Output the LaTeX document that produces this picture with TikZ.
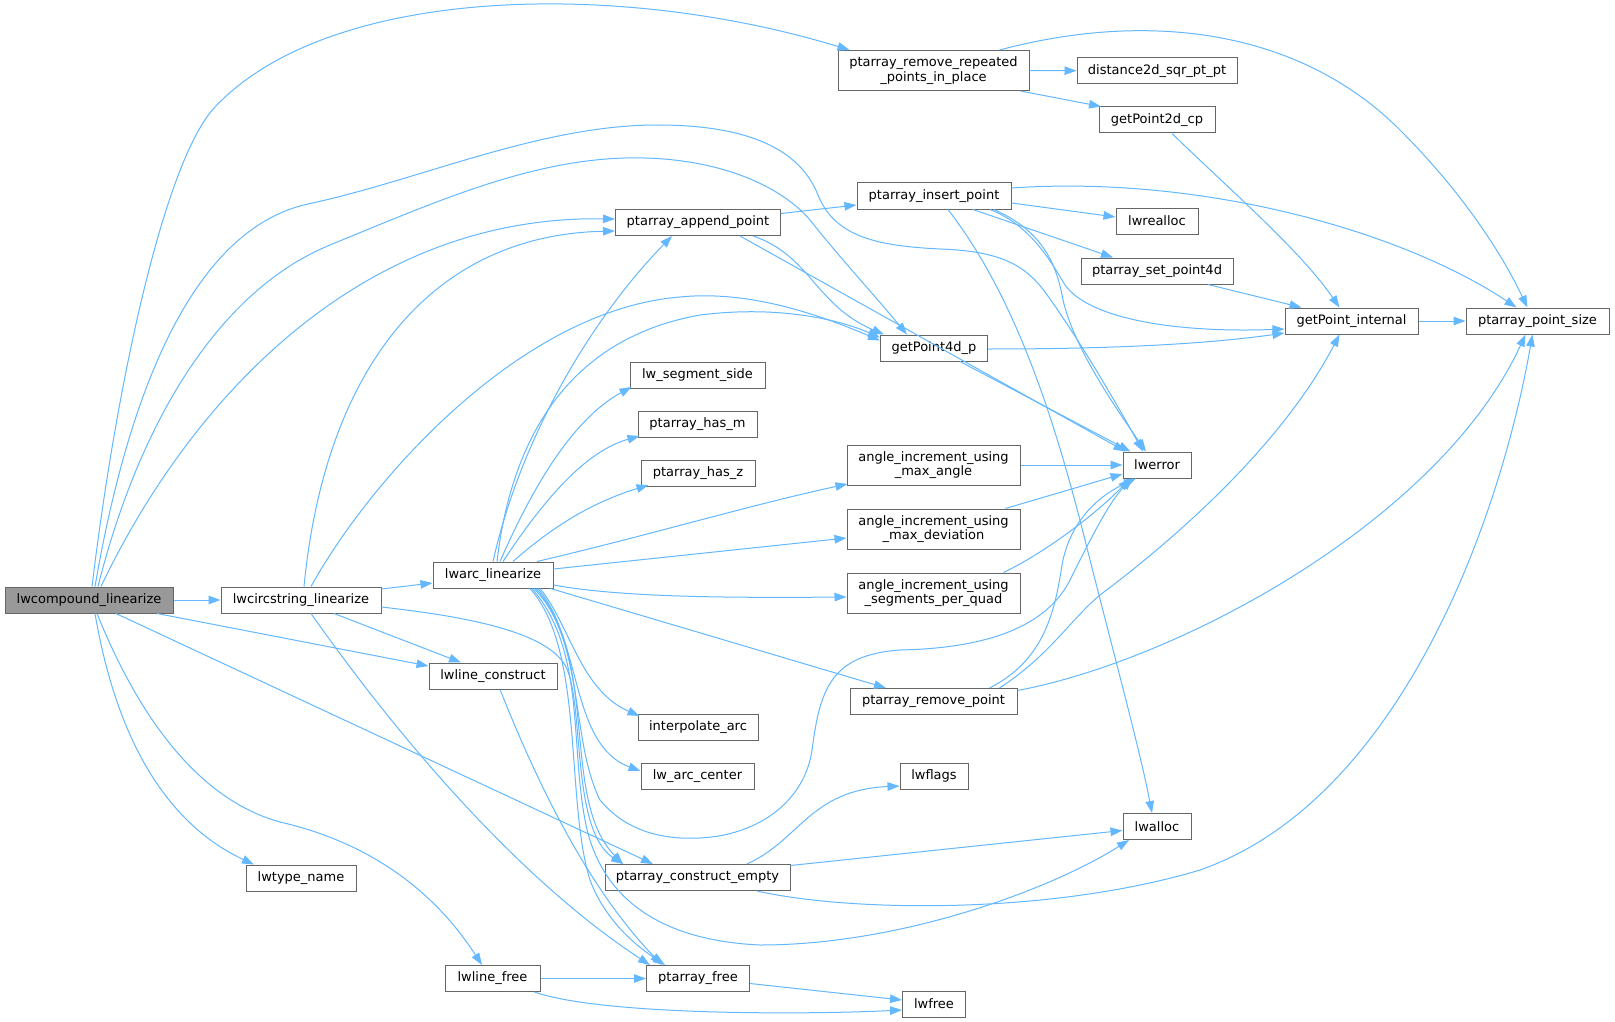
\documentclass[tikz,border=0pt]{standalone}
\usepackage{fontspec}
\setmainfont{DejaVu Sans}
\usetikzlibrary{arrows.meta,calc}
\definecolor{edgec}{HTML}{63B8FF}
\definecolor{boxc}{HTML}{666666}
\definecolor{curc}{HTML}{999999}
\begin{document}
\begin{tikzpicture}[x=1pt,y=-1pt,
  box/.style={draw=boxc,line width=1pt,fill=white,inner sep=0pt,minimum height=26pt,
    font=\fontsize{13}{14.5}\selectfont,align=center,text=black},
  tall/.style={box,minimum height=40pt},
  edge/.style={draw=edgec,line width=1pt,-{Triangle[length=12pt,width=8.5pt]}}]
\fill[white] (0,0) rectangle (1615,1022);
\useasboundingbox (0,0) rectangle (1615,1022);
% nodes
\node[box,fill=curc,minimum width=168pt] (A) at (89,600) {lwcompound\_linearize};
\node[box,minimum width=160pt] (B) at (301,600) {lwcircstring\_linearize};
\node[box,minimum width=120pt] (C) at (493,575) {lwarc\_linearize};
\node[box,minimum width=128pt] (D) at (493,676) {lwline\_construct};
\node[box,minimum width=110pt] (E) at (301,878) {lwtype\_name};
\node[box,minimum width=95pt] (F) at (492.5,978.5) {lwline\_free};
\node[tall,minimum width=191pt] (G) at (933.5,70.5) {ptarray\_remove\_repeated\\\_points\_in\_place};
\node[box,minimum width=154pt] (H) at (934,196) {ptarray\_insert\_point};
\node[box,minimum width=165pt] (I) at (698,222.5) {ptarray\_append\_point};
\node[box,minimum width=107pt] (J) at (934,348) {getPoint4d\_p};
\node[box,minimum width=135pt] (K) at (697.5,375) {lw\_segment\_side};
\node[box,minimum width=119pt] (L) at (697.5,424) {ptarray\_has\_m};
\node[box,minimum width=114pt] (M) at (698,473) {ptarray\_has\_z};
\node[tall,minimum width=173pt] (N) at (933.5,465) {angle\_increment\_using\\\_max\_angle};
\node[tall,minimum width=173pt] (O) at (933.5,529) {angle\_increment\_using\\\_max\_deviation};
\node[tall,minimum width=173pt] (P) at (933.5,593) {angle\_increment\_using\\\_segments\_per\_quad};
\node[box,minimum width=68pt] (Q) at (1157,465) {lwerror};
\node[box,minimum width=167pt] (R) at (933.5,701.5) {ptarray\_remove\_point};
\node[box,minimum width=120pt] (S) at (698,727) {interpolate\_arc};
\node[box,minimum width=113pt] (T) at (697.5,776) {lw\_arc\_center};
\node[box,minimum width=68pt] (U) at (934,776) {lwflags};
\node[box,minimum width=68pt] (V) at (1157,826.5) {lwalloc};
\node[box,minimum width=185pt] (W) at (697.5,877.5) {ptarray\_construct\_empty};
\node[box,minimum width=103pt] (X) at (698,978.5) {ptarray\_free};
\node[box,minimum width=63pt] (Y) at (934,1004) {lwfree};
\node[box,minimum width=160pt] (Z) at (1157,70.7) {distance2d\_sqr\_pt\_pt};
\node[box,minimum width=116pt] (AA) at (1157,120) {getPoint2d\_cp};
\node[box,minimum width=82pt] (AB) at (1157,221) {lwrealloc};
\node[box,minimum width=152pt] (AC) at (1157,271) {ptarray\_set\_point4d};
\node[box,minimum width=133pt] (AD) at (1351.5,321) {getPoint\_internal};
\node[box,minimum width=143pt] (AE) at (1537.5,321) {ptarray\_point\_size};
% edges from lwcompound_linearize
\draw[edge] ($(A.north)+(3,0)$) .. controls (117,380) and (165,160) .. (215,107)
  .. controls (330,-15) and (620,-20) .. ($(G.north west)+(12,0)$);
\draw[edge] ($(A.north)+(6,0)$) .. controls (127,400) and (190,230) .. (308,204)
  .. controls (420,180) and (540,125) .. (657,125)
  .. controls (750,125) and (800,150) .. (818,195)
  .. controls (835,238) and (880,246) .. (940,249)
  .. controls (1000,251) and (1025,265) .. (1045,292)
  .. controls (1080,340) and (1120,410) .. ($(Q.north)+(-14,0)$);
\draw[edge] ($(A.north)+(9,0)$) .. controls (140,420) and (220,290) .. (330,245)
  .. controls (440,200) and (540,155) .. (645,158)
  .. controls (720,160) and (780,185) .. (810,220)
  .. controls (840,258) and (870,290) .. ($(J.north)+(-27,0)$);
\draw[edge] ($(A.north)+(12,0)$) .. controls (190,400) and (360,215) .. ($(I.west)+(0,-3.5)$);
\draw[edge] (A.east) -- (B.west);
\draw[edge] ($(A.south)+(68,0)$) -- ($(D.west)+(0,-10)$);
\draw[edge] ($(A.south)+(27,0)$) -- ($(W.north)+(-44.5,0)$);
\draw[edge] ($(A.south)+(6,0)$) .. controls (120,760) and (180,830) .. ($(E.north)+(-47,0)$);
\draw[edge] ($(A.south)+(8,0)$) .. controls (140,720) and (200,800) .. (280,822)
  .. controls (380,845) and (440,900) .. ($(F.north)+(-10.5,0)$);
% edges from lwcircstring_linearize
\draw[edge] ($(B.east)+(0,-11)$) -- ($(C.west)+(0,8)$);
\draw[edge] ($(B.north)+(3,0)$) .. controls (325,370) and (430,235) .. ($(I.west)+(0,8.5)$);
\draw[edge] ($(B.north)+(10,0)$) .. controls (370,480) and (520,310) .. (680,297)
  .. controls (750,290) and (820,315) .. ($(J.north west)+(0,6)$);
\draw[edge] ($(B.south)+(33,0)$) -- ($(D.north)+(-32,0)$);
\draw[edge] ($(B.east)+(0,7)$) .. controls (470,617) and (545,632) .. (565,665)
  .. controls (585,700) and (570,830) .. ($(W.north)+(-74.5,0)$);
\draw[edge] ($(B.south)+(10,0)$) .. controls (400,740) and (520,880) .. ($(X.north)+(-48,0)$);
% edges from lwarc_linearize
\draw[edge] (C.north) .. controls (520,440) and (590,320) .. ($(I.south)+(-26,0)$);
\draw[edge] ($(C.north)+(4,0)$) .. controls (510,450) and (560,340) .. (700,315)
  .. controls (780,305) and (840,320) .. ($(J.north west)+(0,3)$);
\draw[edge] ($(C.north)+(7,0)$) .. controls (540,470) and (580,415) .. ($(K.west)+(2,12)$);
\draw[edge] ($(C.north)+(10,0)$) .. controls (550,490) and (590,450) .. ($(L.west)+(2,12)$);
\draw[edge] ($(C.north)+(20,0)$) .. controls (560,520) and (600,500) .. ($(M.west)+(8,12)$);
\draw[edge] ($(C.north)+(44,0)$) .. controls (650,535) and (750,505) .. ($(N.west)+(1,19)$);
\draw[edge] ($(C.east)+(0,-6)$) -- ($(O.west)+(0,9)$);
\draw[edge] ($(C.east)+(0,10)$) .. controls (620,597) and (720,598) .. ($(P.west)+(0,4)$);
\draw[edge] ($(C.south east)+(-3,0)$) -- ($(R.north)+(-47.5,0)$);
\draw[edge] ($(C.south)+(47,0)$) .. controls (570,625) and (580,690) .. ($(S.west)+(2,-11)$);
\draw[edge] ($(C.south)+(45,0)$) .. controls (582,640) and (570,745) .. ($(T.west)+(0,-5)$);
\draw[edge] ($(C.south)+(43,0)$) .. controls (600,660) and (560,800) .. ($(W.north)+(-74.5,0)$);
\draw[edge] ($(C.south)+(41,0)$) .. controls (585,640) and (570,740) .. (600,800)
  .. controls (625,830) and (660,840) .. (700,838)
  .. controls (760,835) and (805,800) .. (812,750)
  .. controls (820,690) and (830,655) .. (900,650)
  .. controls (1000,648) and (1050,620) .. (1070,580)
  .. controls (1090,540) and (1110,500) .. ($(Q.south)+(-24,0)$);
\draw[edge] ($(C.south)+(39,0)$) .. controls (585,650) and (570,740) .. (585,820)
  .. controls (598,890) and (650,940) .. (760,945)
  .. controls (900,945) and (1050,890) .. ($(V.south)+(-28,0)$);
\draw[edge] ($(C.south)+(37,0)$) .. controls (585,650) and (565,800) .. (590,880)
  .. controls (605,920) and (635,945) .. ($(X.north)+(-33,0)$);
% lwline_construct
\draw[edge] ($(D.south)+(7,0)$) .. controls (540,790) and (590,890) .. ($(X.north)+(-36,0)$);
% ptarray_remove_repeated_points_in_place
\draw[edge] (G.east) -- (Z.west);
\draw[edge] ($(G.south east)+(-9,0)$) -- ($(AA.north)+(-56,0)$);
\draw[edge] ($(G.north)+(66,0)$) .. controls (1150,10) and (1300,30) .. (1400,130)
  .. controls (1460,190) and (1500,250) .. ($(AE.north)+(-10,0)$);
% getPoint2d_cp
\draw[edge] ($(AA.south)+(15,0)$) .. controls (1230,190) and (1300,250) .. ($(AD.north)+(-12,0)$);
% ptarray_insert_point
\draw[edge] ($(H.east)+(0,7)$) -- ($(AB.west)+(0,-4)$);
\draw[edge] ($(H.south)+(39,0)$) -- ($(AC.north)+(-44,0)$);
\draw[edge] ($(H.east)+(0,-8)$) .. controls (1200,175) and (1400,230) .. ($(AE.north)+(-21,0)$);
\draw[edge] ($(H.south)+(56,0)$) .. controls (1030,225) and (1050,260) .. (1065,285)
  .. controls (1090,320) and (1180,333) .. ($(AD.west)+(0,8)$);
\draw[edge] ($(H.south)+(60,0)$) .. controls (1040,230) and (1055,260) .. (1062,295)
  .. controls (1070,340) and (1110,400) .. ($(Q.north)+(-11,0)$);
\draw[edge] ($(H.south)+(14,0)$) .. controls (1010,290) and (1050,400) .. (1085,540)
  .. controls (1110,640) and (1140,750) .. ($(V.north)+(-5,0)$);
% ptarray_append_point
\draw[edge] ($(I.east)+(0,-9)$) -- ($(H.west)+(0,9)$);
\draw[edge] ($(I.south)+(55,0)$) .. controls (810,255) and (815,305) .. ($(J.north west)+(4,0)$);
\draw[edge] ($(I.south)+(42,0)$) -- ($(Q.north west)+(3,0)$);
% getPoint4d_p
\draw[edge] ($(J.east)+(0,1)$) .. controls (1100,349) and (1200,345) .. ($(AD.west)+(0,12)$);
\draw[edge] ($(J.south)+(26,0)$) -- ($(Q.north west)+(8,0)$);
% ptarray_set_point4d
\draw[edge] ($(AC.south)+(51,0)$) -- ($(AD.north)+(-50,0)$);
% getPoint_internal
\draw[edge] (AD.east) -- (AE.west);
% angle increments
\draw[edge] (N.east) -- (Q.west);
\draw[edge] ($(O.north)+(72,0)$) -- ($(Q.west)+(0,9)$);
\draw[edge] ($(P.north)+(70,0)$) .. controls (1050,550) and (1100,510) .. ($(Q.south)+(-27,0)$);
% ptarray_remove_point
\draw[edge] ($(R.north)+(56,0)$) .. controls (1045,660) and (1055,610) .. (1062,565)
  .. controls (1070,520) and (1100,495) .. ($(Q.south)+(-21,0)$);
\draw[edge] ($(R.north)+(66,0)$) .. controls (1050,655) and (1070,620) .. (1100,595)
  .. controls (1200,520) and (1290,430) .. ($(AD.south)+(-12,0)$);
\draw[edge] ($(R.east)+(0,-11)$) .. controls (1180,660) and (1440,520) .. ($(AE.south)+(-12,0)$);
% ptarray_construct_empty
\draw[edge] ($(W.north)+(49.5,0)$) .. controls (800,840) and (810,790) .. ($(U.west)+(0,10)$);
\draw[edge] ($(W.east)+(0,-12)$) -- ($(V.west)+(0,4)$);
\draw[edge] ($(W.south)+(59.5,0)$) .. controls (850,912) and (1050,915) .. (1200,870)
  .. controls (1400,800) and (1500,520) .. ($(AE.south)+(-5,0)$);
% lwline_free, ptarray_free
\draw[edge] (F.east) -- (X.west);
\draw[edge] ($(F.south)+(42,0)$) .. controls (600,1015) and (800,1015) .. ($(Y.west)+(0,6)$);
\draw[edge] ($(X.east)+(0,5)$) -- ($(Y.west)+(0,-4)$);
\end{tikzpicture}
\end{document}
